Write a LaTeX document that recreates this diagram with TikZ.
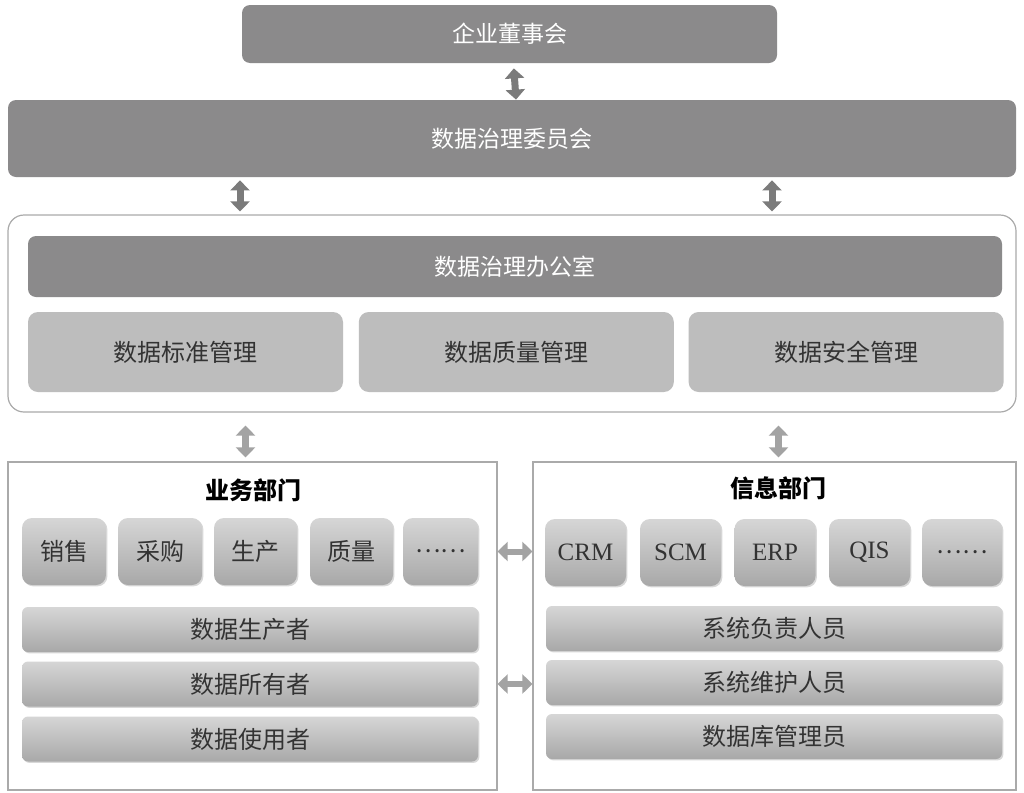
\documentclass[tikz,border=0pt]{standalone}
\usepackage{fontspec}
\setmainfont{Liberation Serif}
\newfontfamily\cjk{Noto Sans CJK SC}
\usetikzlibrary{
  arrows.meta,
  positioning,
  shadows,
}

\definecolor{darkbox}{HTML}{8B8A8B}
\definecolor{lightbox}{HTML}{BDBDBD}
\definecolor{gradtop}{HTML}{D6D6D6}
\definecolor{gradbot}{HTML}{A8A8A8}
\definecolor{framegray}{HTML}{AAAAAA}
\definecolor{arrowdark}{HTML}{7B7B7B}
\definecolor{arrowlight}{HTML}{A3A3A3}
\definecolor{textdark}{HTML}{333333}

\begin{document}
\begin{tikzpicture}[
  x=0.5pt, y=-0.5pt,
  darkblock/.style={
    rounded corners=4pt, fill=darkbox, text=white, inner sep=0pt,
    font=\cjk\fontsize{11.5}{13}\selectfont,
  },
  lightblock/.style={
    rounded corners=5pt, fill=lightbox, text=textdark, inner sep=0pt,
    minimum width=157.5pt, minimum height=40pt,
    font=\cjk\fontsize{12}{14}\selectfont,
  },
  unitblock/.style={
    rounded corners=5pt, top color=gradtop, bottom color=gradbot,
    drop shadow={shadow xshift=0.7pt, shadow yshift=-0.7pt, opacity=0.3},
    text=textdark, inner sep=0pt, minimum height=33.5pt,
    font=\cjk\fontsize{12}{14}\selectfont,
  },
  rolebar/.style={
    rounded corners=3pt, top color=gradtop, bottom color=gradbot,
    drop shadow={shadow xshift=0.7pt, shadow yshift=-0.7pt, opacity=0.3},
    text=textdark, inner sep=0pt, minimum width=228pt, minimum height=22.5pt,
    font=\cjk\fontsize{12}{14}\selectfont,
  },
  deptframe/.style={
    draw=framegray, line width=0.6pt, fill=white, inner sep=0pt,
    minimum height=164pt,
  },
  depttitle/.style={font=\cjk\bfseries\fontsize{12}{14}\selectfont, text=black},
  fatarrow/.style={
    draw=arrowdark, line width=3.5pt,
    {Triangle[width=9.5pt,length=5pt]}-{Triangle[width=9.5pt,length=5pt]},
  },
  fatarrowlight/.style={fatarrow, draw=arrowlight},
]
\useasboundingbox (0,0) rectangle (1024,793);

% top level
\node[darkblock, minimum width=267.5pt, minimum height=29pt] (board) at (509.5,34) {企业董事会};
\node[darkblock, minimum width=504pt, minimum height=38.5pt] (committee) at (512,138.5) {数据治理委员会};

% governance office
\node[draw=framegray, line width=0.6pt, rounded corners=8pt, fill=white,
      minimum width=504pt, minimum height=98.5pt] (govbox) at (512,313.5) {};
\node[darkblock, minimum width=487pt, minimum height=30.5pt] (office) at (515,266.5) {数据治理办公室};
\node[lightblock] (stdmgmt) at (185.5,352) {数据标准管理};
\node[lightblock, right=7.5pt of stdmgmt] (qualmgmt) {数据质量管理};
\node[lightblock, right=7pt of qualmgmt] (secmgmt) {数据安全管理};

% departments
\node[deptframe, minimum width=244.5pt] (biz) at (252.5,626) {};
\node[deptframe, minimum width=241.5pt] (it) at (774.5,626) {};
\node[depttitle] (bizlabel) at (253,490) {业务部门};
\node[depttitle] (itlabel) at (778,488) {信息部门};

\foreach \nm/\x/\w/\txt in {sales/64/42/销售, purchase/160/42/采购, produce/255.5/41.5/生产,
                            quality/351.5/41.5/质量, udots/440.5/37.5/……}
  \node[unitblock, minimum width=\w pt] (\nm) at (\x,551.5) {\txt};

\foreach \nm/\x/\txt in {crm/585.5/CRM, scm/680.5/SCM, erp/775/ERP, qis/869.5/QIS}
  \node[unitblock, minimum width=40.5pt, font=\fontsize{12.5}{14}\selectfont] (\nm) at (\x,552.5) {\txt};
\node[unitblock, minimum width=40pt] (sdots) at (962,552.5) {……};

\node[rolebar] (producer) at (250,629.5) {数据生产者};
\node[rolebar] (owner) at (250,684) {数据所有者};
\node[rolebar] (user) at (250,739) {数据使用者};

\node[rolebar] (sysowner) at (774,628.5) {系统负责人员};
\node[rolebar] (sysmaint) at (774,682.5) {系统维护人员};
\node[rolebar] (dba) at (774,736.5) {数据库管理员};

% connections
\draw[fatarrow, shorten <=2.5pt] ([xshift=2pt]board.south) -- ([xshift=2pt]committee.north);
\draw[fatarrow, shorten <=1.5pt, shorten >=1.5pt] ([xshift=-136pt]committee.south) -- ([xshift=-136pt]govbox.north);
\draw[fatarrow, shorten <=1.5pt, shorten >=1.5pt] ([xshift=130pt]committee.south) -- ([xshift=130pt]govbox.north);

\draw[fatarrowlight, shorten <=6.5pt, shorten >=2pt] ([xshift=-3.5pt]biz.north |- govbox.south) -- ([xshift=-3.5pt]biz.north);
\draw[fatarrowlight, shorten <=6.5pt, shorten >=2pt] ([xshift=2pt]it.north |- govbox.south) -- ([xshift=2pt]it.north);

\draw[fatarrowlight, line width=3pt] (biz.east |- udots) -- (it.west |- udots);
\draw[fatarrowlight, line width=3pt] (biz.east |- owner) -- (it.west |- owner);

\end{tikzpicture}
\end{document}
